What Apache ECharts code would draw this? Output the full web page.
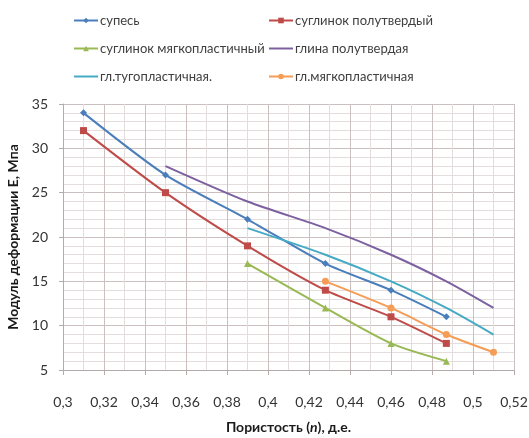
<!DOCTYPE html>
<html>
<head>
<meta charset="utf-8">
<script src="https://cdn.jsdelivr.net/npm/echarts@6/dist/echarts.min.js"></script>
<style>
  html, body { margin: 0; padding: 0; background: #ffffff; }
  #chart { width: 529px; height: 438px; }
</style>
</head>
<body>
<div id="chart"></div>
<script>
// Porosity (n) values where each soil type was measured
const porosity = [0.31, 0.35, 0.39, 0.428, 0.46, 0.487, 0.51];

// Deformation modulus E, MPa, per soil type (null = not measured)
const supes        = [34, 27, 22, 17, 14, 11, null];
const suglPoluTv   = [32, 25, 19, 14, 11, 8, null];
const suglMyagk    = [null, null, 17, 12, 8, 6, null];
const glinaPoluTv  = [null, 28, 24, 21, 18, 15, 12];
const glTugopl     = [null, null, 21, 18, 15, 12, 9];
const glMyagkopl   = [null, null, null, 15, 12, 9, 7];

const seriesNames = [
  'супесь',
  'суглинок полутвердый',
  'суглинок мягкопластичный',
  'глина полутвердая',
  'гл.тугопластичная.',
  'гл.мягкопластичная'
];

const xTicks = { min: 0.3, max: 0.52, step: 0.02 };
const yTicks = { min: 5, max: 35, step: 5 };

function pairs(values) {
  const out = [];
  values.forEach((v, i) => { if (v !== null) out.push([porosity[i], v]); });
  return out;
}

const styles = [
  { color: '#4A7EBB', symbol: 'diamond', size: 7 },
  { color: '#BE4B48', symbol: 'rect', size: 7 },
  { color: '#98B954', symbol: 'triangle', size: 7 },
  { color: '#7D60A0', symbol: 'none', size: 0 },
  { color: '#46AAC5', symbol: 'none', size: 0 },
  { color: '#F59D56', symbol: 'circle', size: 7 }
];

const dataSets = [supes, suglPoluTv, suglMyagk, glinaPoluTv, glTugopl, glMyagkopl];

const series = dataSets.map((d, i) => ({
  name: seriesNames[i],
  type: 'line',
  data: pairs(d),
  smooth: 0.25,
  symbol: styles[i].symbol,
  symbolSize: styles[i].size,
  showSymbol: styles[i].symbol !== 'none',
  lineStyle: { color: styles[i].color, width: 2 },
  itemStyle: { color: styles[i].color },
  animation: false
}));

// legend entries: series without markers show only the line
function legendItem(i) {
  const item = { name: seriesNames[i] };
  if (styles[i].symbol === 'none') item.itemStyle = { opacity: 0 };
  return item;
}

const fontFamily = 'Lato, "Open Sans", sans-serif';

const legendCommon = {
  orient: 'vertical',
  top: 9,
  itemGap: 15,
  itemWidth: 24,
  itemHeight: 7,
  textStyle: { fontFamily: fontFamily, fontSize: 13, color: '#404040', padding: [0, 0, 0, -3] }
};

const chart = echarts.init(document.getElementById('chart'), null, { renderer: 'canvas' });

chart.setOption({
  backgroundColor: '#ffffff',
  animation: false,
  legend: [
    Object.assign({}, legendCommon, { left: 68, data: [0, 2, 4].map(legendItem) }),
    Object.assign({}, legendCommon, { left: 263, data: [1, 3, 5].map(legendItem) })
  ],
  grid: { left: 63, right: 15, top: 104, bottom: 68, containLabel: false, outerBoundsMode: 'none' },
  xAxis: {
    type: 'value',
    min: xTicks.min,
    max: xTicks.max,
    interval: xTicks.step,
    name: '{b|Пористость (}{i|n}{b|), д.е.}',
    nameLocation: 'middle',
    nameGap: 50,
    nameTextStyle: {
      rich: {
        b: { fontFamily: fontFamily, fontSize: 14, fontWeight: 'bold', color: '#1a1a1a' },
        i: { fontFamily: fontFamily, fontSize: 14, fontWeight: 'bold', fontStyle: 'italic', color: '#1a1a1a' }
      }
    },
    axisLine: { show: true, lineStyle: { color: '#b5aaaa', width: 1 } },
    axisTick: { show: true, length: 5, lineStyle: { color: '#b5aaaa' } },
    axisLabel: {
      margin: 25,
      fontFamily: fontFamily,
      fontSize: 14,
      color: '#333333',
      formatter: v => String(Math.round(v * 100) / 100).replace('.', ',')
    },
    splitLine: { show: true, lineStyle: { color: '#cbbfbf', width: 1 } },
    minorTick: { show: false, splitNumber: 2 },
    minorSplitLine: { show: true, lineStyle: { color: '#e4dddd', width: 1 } }
  },
  yAxis: {
    type: 'value',
    min: yTicks.min,
    max: yTicks.max,
    interval: yTicks.step,
    name: 'Модуль деформации E, Мпа',
    nameLocation: 'middle',
    nameGap: 40,
    nameRotate: 90,
    nameTextStyle: { fontFamily: fontFamily, fontSize: 14, fontWeight: 'bold', color: '#1a1a1a' },
    axisLine: { show: true, lineStyle: { color: '#b5aaaa', width: 1 } },
    axisTick: { show: true, length: 4, lineStyle: { color: '#b5aaaa' } },
    axisLabel: { margin: 15, fontFamily: fontFamily, fontSize: 14, color: '#333333' },
    splitLine: { show: true, lineStyle: { color: '#cbbfbf', width: 1 } },
    minorTick: { show: false, splitNumber: 5 },
    minorSplitLine: { show: true, lineStyle: { color: '#e4dddd', width: 1 } }
  },
  series: series
});
</script>
</body>
</html>
